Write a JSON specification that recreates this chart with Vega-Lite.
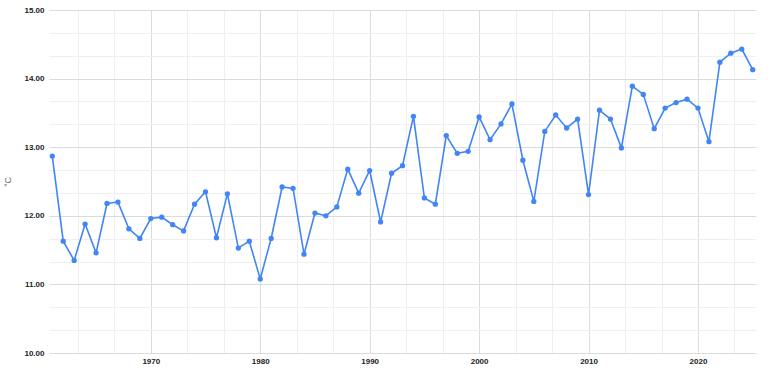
{
  "$schema": "https://vega.github.io/schema/vega-lite/v6.json",
  "width": 707,
  "height": 343,
  "autosize": {"type": "none"},
  "padding": {"left": 49, "top": 10, "right": 12, "bottom": 24},
  "background": "white",
  "config": {
    "view": {"stroke": null},
    "font": "Liberation Sans"
  },
  "data": {
    "values": [
      {"year": 1961, "temp": 12.87},
      {"year": 1962, "temp": 11.63},
      {"year": 1963, "temp": 11.35},
      {"year": 1964, "temp": 11.88},
      {"year": 1965, "temp": 11.46},
      {"year": 1966, "temp": 12.18},
      {"year": 1967, "temp": 12.20},
      {"year": 1968, "temp": 11.81},
      {"year": 1969, "temp": 11.67},
      {"year": 1970, "temp": 11.96},
      {"year": 1971, "temp": 11.98},
      {"year": 1972, "temp": 11.87},
      {"year": 1973, "temp": 11.78},
      {"year": 1974, "temp": 12.17},
      {"year": 1975, "temp": 12.35},
      {"year": 1976, "temp": 11.68},
      {"year": 1977, "temp": 12.32},
      {"year": 1978, "temp": 11.53},
      {"year": 1979, "temp": 11.63},
      {"year": 1980, "temp": 11.08},
      {"year": 1981, "temp": 11.67},
      {"year": 1982, "temp": 12.42},
      {"year": 1983, "temp": 12.40},
      {"year": 1984, "temp": 11.44},
      {"year": 1985, "temp": 12.04},
      {"year": 1986, "temp": 12.00},
      {"year": 1987, "temp": 12.13},
      {"year": 1988, "temp": 12.68},
      {"year": 1989, "temp": 12.33},
      {"year": 1990, "temp": 12.66},
      {"year": 1991, "temp": 11.91},
      {"year": 1992, "temp": 12.62},
      {"year": 1993, "temp": 12.73},
      {"year": 1994, "temp": 13.45},
      {"year": 1995, "temp": 12.26},
      {"year": 1996, "temp": 12.17},
      {"year": 1997, "temp": 13.17},
      {"year": 1998, "temp": 12.91},
      {"year": 1999, "temp": 12.94},
      {"year": 2000, "temp": 13.44},
      {"year": 2001, "temp": 13.11},
      {"year": 2002, "temp": 13.34},
      {"year": 2003, "temp": 13.63},
      {"year": 2004, "temp": 12.81},
      {"year": 2005, "temp": 12.21},
      {"year": 2006, "temp": 13.23},
      {"year": 2007, "temp": 13.47},
      {"year": 2008, "temp": 13.28},
      {"year": 2009, "temp": 13.41},
      {"year": 2010, "temp": 12.31},
      {"year": 2011, "temp": 13.54},
      {"year": 2012, "temp": 13.41},
      {"year": 2013, "temp": 12.99},
      {"year": 2014, "temp": 13.89},
      {"year": 2015, "temp": 13.77},
      {"year": 2016, "temp": 13.27},
      {"year": 2017, "temp": 13.57},
      {"year": 2018, "temp": 13.65},
      {"year": 2019, "temp": 13.70},
      {"year": 2020, "temp": 13.57},
      {"year": 2021, "temp": 13.08},
      {"year": 2022, "temp": 14.24},
      {"year": 2023, "temp": 14.37},
      {"year": 2024, "temp": 14.43},
      {"year": 2025, "temp": 14.13}
    ]
  },
  "encoding": {
    "x": {
      "field": "year",
      "type": "quantitative",
      "scale": {"domain": [1960.7, 2025.3], "nice": false, "zero": false},
      "axis": {
        "title": null,
        "values": [1963.3333333, 1966.6666667, 1970, 1973.3333333, 1976.6666667, 1980, 1983.3333333, 1986.6666667, 1990, 1993.3333333, 1996.6666667, 2000, 2003.3333333, 2006.6666667, 2010, 2013.3333333, 2016.6666667, 2020, 2023.3333333],
        "labelExpr": "abs(datum.value - round(datum.value / 10) * 10) < 0.01 ? format(datum.value, 'd') : ''",
        "grid": true,
        "gridColor": {"condition": {"test": "abs(datum.value - round(datum.value / 10) * 10) < 0.01", "value": "#dcdcdc"}, "value": "#efefef"},
        "gridWidth": 1,
        "ticks": false,
        "domain": false,
        "labelFont": "Liberation Sans",
        "labelFontSize": 8,
        "labelFontWeight": "bold",
        "labelColor": "#222222",
        "labelPadding": 4,
        "labelOverlap": false
      }
    },
    "y": {
      "field": "temp",
      "type": "quantitative",
      "scale": {"domain": [10, 15], "nice": false, "zero": false},
      "axis": {
        "title": "°C",
        "titleFont": "Liberation Sans",
        "titleFontSize": 9,
        "titleFontWeight": "normal",
        "titleColor": "#666666",
        "titlePadding": 11,
        "values": [10, 10.3333333, 10.6666667, 11, 11.3333333, 11.6666667, 12, 12.3333333, 12.6666667, 13, 13.3333333, 13.6666667, 14, 14.3333333, 14.6666667, 15],
        "labelExpr": "abs(datum.value - round(datum.value)) < 0.01 ? format(datum.value, '.2f') : ''",
        "grid": true,
        "gridColor": {"condition": {"test": "abs(datum.value - round(datum.value)) < 0.01", "value": "#dcdcdc"}, "value": "#efefef"},
        "gridWidth": 1,
        "ticks": false,
        "domain": false,
        "labelFont": "Liberation Sans",
        "labelFontSize": 8,
        "labelFontWeight": "bold",
        "labelColor": "#222222",
        "labelPadding": 5,
        "labelOverlap": false
      }
    }
  },
  "layer": [
    {"mark": {"type": "line", "color": "#4285f4", "strokeWidth": 1.6}},
    {"mark": {"type": "point", "filled": true, "color": "#4285f4", "size": 28, "opacity": 1}}
  ]
}
